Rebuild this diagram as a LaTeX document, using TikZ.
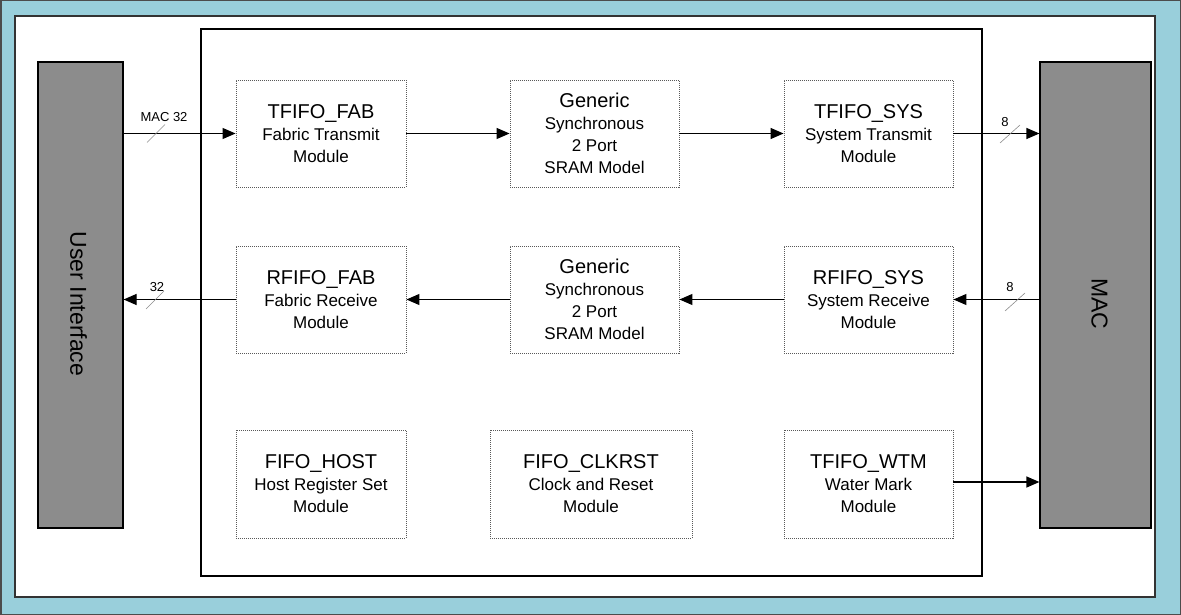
\documentclass[tikz,border=0pt]{standalone}
\usepackage{fontspec}
\setmainfont{Liberation Sans}
\usetikzlibrary{arrows.meta,calc}
\definecolor{bgcyan}{RGB}{153,207,219}
\definecolor{blockgray}{RGB}{140,140,140}
\newcommand\ttl[1]{{\fontsize{20}{22}\selectfont #1}}
\tikzset{
  modbox/.style={draw=black!65, dash pattern=on 1pt off 1pt, line width=0.9pt, fill=white,
    minimum height=107pt, align=center, font=\fontsize{17}{22}\selectfont, inner sep=0pt},
  sidebox/.style={draw=black, line width=1.2pt, fill=blockgray, minimum height=466pt, inner sep=0pt},
  conn/.style={line width=1.2pt, -{Triangle[length=13pt,width=11pt]}},
  busmark/.style={draw=black!45, line width=0.6pt},
  buslbl/.style={font=\fontsize{13}{15}\selectfont, inner sep=1pt},
  sidetxt/.style={rotate=-90, font=\fontsize{23}{26}\selectfont}
}
\begin{document}
\begin{tikzpicture}[x=1pt,y=-1pt]
\useasboundingbox (0,0) rectangle (1181,615);
% background
\fill[bgcyan] (0,0) rectangle (1181,615);
\draw[black!70, line width=1.5pt] (0.75,0.75) rectangle (1180.25,614.25);
\draw[black!80, line width=1.5pt, fill=white] (15,16) rectangle (1155,597);
% frame
\draw[black, line width=1.4pt] (201,29) rectangle (982,576);
% side blocks
\node[sidebox, minimum width=85pt] (ui) at (80.5,295) {};
\node[sidetxt] (uitxt) at ($(ui.center)+(-2,9)$) {User Interface};
\node[sidebox, minimum width=111pt] (mac) at (1095.5,295) {};
\node[sidetxt] (mactxt) at ($(mac.center)+(4,9)$) {MAC};
% modules
\node[modbox, minimum width=170pt] (tfab) at (321,133.5) {\ttl{TFIFO\_FAB}\\Fabric Transmit\\Module};
\node[modbox, minimum width=169pt] (tgen) at (594.5,133.5) {\ttl{Generic}\\Synchronous\\2 Port\\SRAM Model};
\node[modbox, minimum width=169pt] (tsys) at (868.5,133.5) {\ttl{TFIFO\_SYS}\\System Transmit\\Module};
\node[modbox, minimum width=170pt] (rfab) at (321,299.5) {\ttl{RFIFO\_FAB}\\Fabric Receive\\Module};
\node[modbox, minimum width=169pt] (rgen) at (594.5,299.5) {\ttl{Generic}\\Synchronous\\2 Port\\SRAM Model};
\node[modbox, minimum width=169pt] (rsys) at (868.5,299.5) {\ttl{RFIFO\_SYS}\\System Receive\\Module};
\node[modbox, minimum width=170pt, minimum height=108pt] (host) at (321,484) {\ttl{FIFO\_HOST}\\Host Register Set\\Module};
\node[modbox, minimum width=202pt, minimum height=108pt] (clk) at (591,484) {\ttl{FIFO\_CLKRST}\\Clock and Reset\\Module};
\node[modbox, minimum width=169pt, minimum height=108pt] (wtm) at (868.5,484) {\ttl{TFIFO\_WTM}\\Water Mark\\Module};
% connectors
\draw[conn] (ui.east |- tfab.west) -- (tfab.west);
\draw[conn] (tfab) -- (tgen);
\draw[conn] (tgen) -- (tsys);
\draw[conn] (tsys.east) -- (tsys.east -| mac.west);
\draw[conn] (rsys.east -| mac.west) -- (rsys.east);
\draw[conn] (rsys) -- (rgen);
\draw[conn] (rgen) -- (rfab);
\draw[conn] (rfab.west) -- (rfab.west -| ui.east);
\coordinate (wtmout) at (wtm.east |- 0,482);
\draw[conn] (wtmout) -- (wtmout -| mac.west);
% bus width marks
\coordinate (m1) at (156,133.5);
\draw[busmark] ($(m1)+(-9,9)$) -- ($(m1)+(9,-9)$);
\node[buslbl] (l1) at (164,117) {MAC 32};
\coordinate (m2) at (155,300);
\draw[busmark] ($(m2)+(-9,9)$) -- ($(m2)+(9,-9)$);
\node[buslbl] (l2) at (157,287) {32};
\coordinate (m3) at (1010,134);
\draw[busmark] ($(m3)+(-10,9)$) -- ($(m3)+(10,-9)$);
\node[buslbl] (l3) at (1005,122) {8};
\coordinate (m4) at (1015,302);
\draw[busmark] ($(m4)+(-10,9)$) -- ($(m4)+(10,-9)$);
\node[buslbl] (l4) at (1010,287) {8};
\end{tikzpicture}
\end{document}
